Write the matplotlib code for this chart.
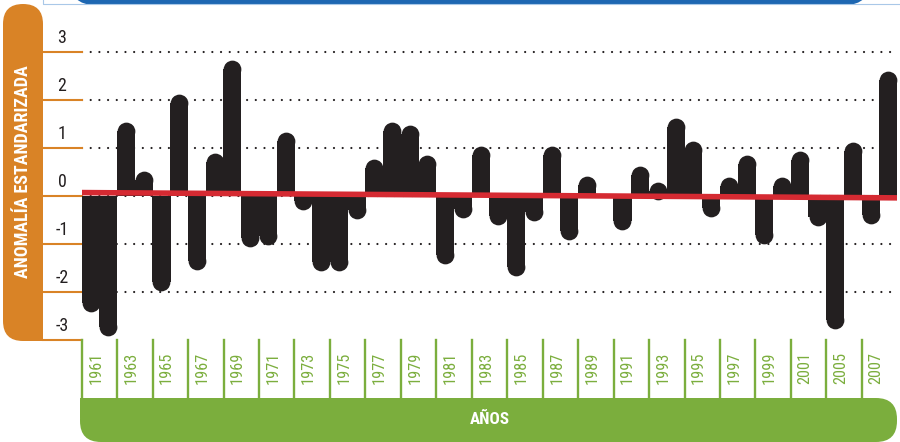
import numpy as np
import matplotlib
matplotlib.use("Agg")
import matplotlib.pyplot as plt
from matplotlib import font_manager as fm
from matplotlib.patches import FancyBboxPatch, Rectangle
from matplotlib.transforms import blended_transform_factory

# Standardised anomaly per year (46 bars)
anomalies = [-2.41, -2.92, 1.53, 0.51, -1.98, 2.12, -1.53, 0.89, 2.82, -1.06,
             -1.02, 1.32, -0.28, -1.56, -1.56, -0.48, 0.77, 1.53, 1.48, 0.85,
             -1.42, -0.45, 1.04, -0.60, -1.66, -0.52, 1.03, -0.92, 0.42, 0.00,
             -0.71, 0.63, 0.28, 1.62, 1.15, -0.44, 0.39, 0.85, -0.99, 0.39,
             0.94, -0.62, -2.76, 1.13, -0.58, 2.60]

# Tick labels as printed (one label per two bars)
tick_labels = ["1961", "1963", "1965", "1967", "1969", "1971", "1973", "1975",
               "1977", "1979", "1981", "1983", "1985", "1987", "1989", "1991",
               "1993", "1995", "1997", "1999", "2001", "2005", "2007"]

y_ticks = [3, 2, 1, 0, -1, -2, -3]
grid_levels = [3, 2, 1, 0, -1, -2]
trend_ends = [0.07, -0.04]

BAR = "#231F20"
RED = "#D52A32"
ORANGE = "#D98326"
GREEN = "#7BAE3D"
BLUE = "#1E67B2"


def pick_font():
    # look for a narrow sans face, the original uses a condensed type
    for fam in ["Liberation Sans Narrow", "Noto Sans Condensed", "Roboto Condensed",
                "Open Sans Condensed", "DejaVu Sans Condensed"]:
        try:
            fm.findfont(fm.FontProperties(family=fam), fallback_to_default=False)
            return {"family": [fam, "DejaVu Sans"]}
        except ValueError:
            pass
    for fam in ["Noto Sans", "DejaVu Sans", "Open Sans", "Roboto"]:
        path = fm.findfont(fm.FontProperties(family=fam, stretch="condensed"))
        if "ondensed" in path or "arrow" in path:
            return {"family": [fam, "DejaVu Sans"], "fontstretch": "condensed"}
    return {"family": ["DejaVu Sans"]}


FONT = pick_font()

W, H = 900, 442
fig = plt.figure(figsize=(W / 100, H / 100), dpi=100)
fig.patch.set_facecolor("white")
renderer = fig.canvas.get_renderer()


def fit_size(s, target_px, base=12, weight="normal"):
    # font size that makes the string about target_px long
    prop = fm.FontProperties(family=FONT["family"], weight=weight,
                             stretch=FONT.get("fontstretch", "normal"), size=base)
    w, _, _ = renderer.get_text_width_height_descent(s, prop, ismath=False)
    return base * target_px / w


# background axes in pixel units for the decorative frame
bg = fig.add_axes([0, 0, 1, 1], zorder=0)
bg.set_xlim(0, W)
bg.set_ylim(H, 0)
bg.axis("off")

# main plotting area
left_px, right_px, bottom_px = 81.7, 897.3, 340
ax = fig.add_axes([left_px / W, (H - bottom_px) / H, (right_px - left_px) / W, bottom_px / H], zorder=1)
ax.set_facecolor("none")
n = len(anomalies)
ax.set_xlim(-0.5, n - 0.5)
ax.set_ylim(-3, 4.08)
ax.axis("off")

# top blue strip and thin border
bg.add_patch(FancyBboxPatch((70, -40), 800, 45, boxstyle="round,pad=0,rounding_size=25",
                            fc=BLUE, ec="none"))
bg.plot([43, 43, 900], [0, 4, 4], color="#A9C8E8", lw=0.8)

# orange y-axis band
bg.add_patch(FancyBboxPatch((3, 4), 40, 337, boxstyle="round,pad=0,rounding_size=20",
                            fc=ORANGE, ec="none"))
bg.add_patch(Rectangle((23, 320), 20, 21, fc=ORANGE, ec="none"))
ylab = "ANOMALÍA ESTANDARIZADA"
bg.text(23, 172, ylab, rotation=90, ha="center", va="center", color="white",
        fontsize=min(15, fit_size(ylab, 212, 12, "bold")), fontweight="bold", **FONT)

# green x-axis band
bg.add_patch(FancyBboxPatch((80, 398), 817, 44, boxstyle="round,pad=0,rounding_size=21",
                            fc=GREEN, ec="none"))
bg.add_patch(Rectangle((80, 398), 25, 20, fc=GREEN, ec="none"))
bg.text(490, 420, "AÑOS", ha="center", va="center", color="white",
        fontsize=min(15, fit_size("AÑOS", 40, 12, "bold")), fontweight="bold", **FONT)

# bars with rounded ends
x = np.arange(n)
vals = np.array(anomalies)
px_x = (right_px - left_px) / n
px_y = bottom_px / (4.08 + 3)
r = 0.5 * px_x / px_y
body = vals - np.sign(vals) * r
ax.bar(x, body, width=1.02, color=BAR, zorder=3, clip_on=False)
mask = vals != 0
ax.plot(x[mask], body[mask], "o", ms=px_x * 0.72, color=BAR, mec="none", zorder=3, clip_on=False)

# dotted grid
for g in grid_levels:
    ax.plot([-0.5, n - 0.5], [g, g], color=BAR, lw=1.6, ls=(0, (0.01, 3.9)),
            dash_capstyle="round", zorder=2)

# trend line
ax.plot([-0.5, n - 0.5], trend_ends, color=RED, lw=4, solid_capstyle="butt", zorder=4)

# y ticks and labels
ty = blended_transform_factory(bg.transData, ax.transData)
ysize = min(13, fit_size("3", 8.7))
for v in y_ticks:
    ax.plot([43, left_px], [v, v], color=ORANGE, lw=1.5, transform=ty, clip_on=False)
    ax.text(62, v + 0.29, str(v), transform=ty, ha="center", va="center",
            fontsize=ysize, color=BAR, **FONT)

# x ticks and labels
tx = blended_transform_factory(ax.transData, bg.transData)
xsize = min(15, fit_size("1961", 32))
for i, lab in enumerate(tick_labels):
    xp = -0.5 + 2 * i
    ax.plot([xp, xp], [340, 398], color=GREEN, lw=1.7, transform=tx, clip_on=False)
    ax.text(xp + 0.79, 368, lab, rotation=90, transform=tx, ha="center", va="center",
            fontsize=xsize, color=GREEN, **FONT)

fig.savefig("out.png", dpi=100)
